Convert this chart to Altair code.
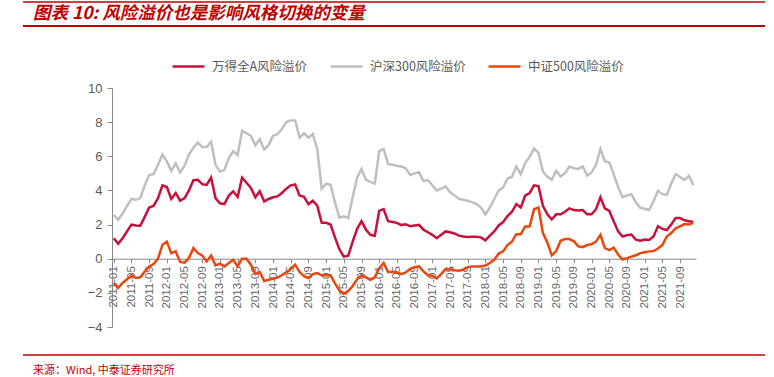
import altair as alt
import pandas as pd

# ---- data ----
months = [f"{y}-{m:02d}" for y in range(2011, 2022) for m in range(1, 13)]

wind_a = [
    1.2, 0.88, 1.2, 1.6, 2.0, 1.95, 1.93, 2.45, 3.0, 3.1, 3.55, 4.3,
    4.2, 3.5, 3.85, 3.4, 3.55, 4.0, 4.6, 4.62, 4.37, 4.32, 4.75, 3.55,
    3.25, 3.2, 3.7, 3.95, 3.62, 4.75, 4.45, 4.15, 3.6, 3.95, 3.35, 3.5,
    3.6, 3.65, 3.85, 4.1, 4.3, 4.35, 3.7, 3.63, 3.2, 3.4, 3.1, 2.1,
    2.1, 2.0, 1.25, 0.55, 0.12, 0.18, 1.0, 1.75, 2.2, 1.7, 1.4, 1.35,
    2.8, 2.9, 2.2, 2.15, 2.1, 1.97, 2.02, 1.9, 1.95, 1.98, 1.7, 1.55,
    1.4, 1.2, 1.4, 1.6, 1.55, 1.48, 1.35, 1.3, 1.27, 1.28, 1.28, 1.25,
    1.08, 1.35, 1.6, 1.95, 2.15, 2.5, 2.75, 3.2, 3.0, 3.7, 3.85, 4.3,
    4.25, 3.1, 2.6, 2.3, 2.6, 2.6, 2.75, 2.95, 2.85, 2.82, 2.85, 2.6,
    2.6, 2.9, 3.6, 2.95, 2.8, 2.2, 1.6, 1.3, 1.38, 1.42, 1.12, 1.05,
    1.12, 1.1, 1.3, 1.9, 1.75, 1.68, 2.0, 2.38, 2.38, 2.25, 2.2, 2.15,
]

hs300 = [
    2.57, 2.28, 2.65, 3.1, 3.5, 3.45, 3.55, 4.3, 4.9, 4.95, 5.5, 6.1,
    5.7, 5.15, 5.58, 5.06, 5.45, 6.1, 6.5, 6.8, 6.55, 6.54, 6.85, 5.5,
    5.1, 5.2, 5.9, 6.3, 6.07, 7.5, 7.35, 7.2, 6.63, 7.0, 6.4, 6.65,
    7.2, 7.3, 7.6, 8.0, 8.1, 8.1, 7.1, 7.35, 7.1, 7.3, 6.4, 4.1,
    4.4, 4.33, 3.3, 2.4, 2.48, 2.38, 3.6, 4.75, 5.26, 4.62, 4.5, 4.4,
    6.3, 6.43, 5.55, 5.5, 5.45, 5.4, 5.3, 4.9, 5.0, 5.07, 4.55, 4.6,
    4.3, 4.0, 4.1, 4.23, 3.9, 3.7, 3.51, 3.45, 3.4, 3.3, 3.2, 3.0,
    2.6, 3.0, 3.5, 4.0, 4.17, 4.7, 4.8, 5.4, 4.95, 5.6, 5.98, 6.45,
    6.2, 5.1, 4.8, 4.62, 5.15, 4.81, 5.01, 5.4, 5.3, 5.26, 5.4, 4.87,
    5.05, 5.5, 6.43, 5.7, 5.65, 4.95, 4.2, 3.6, 3.7, 3.78, 3.3, 2.98,
    2.93, 2.85, 3.35, 3.98, 3.78, 3.74, 4.4, 4.95, 4.79, 4.62, 4.85, 4.3,
]

zz500 = [
    -1.42, -1.71, -1.42, -1.2, -0.97, -1.13, -1.09, -0.75, -0.45, -0.31, 0.0, 0.82,
    1.0, 0.33, 0.43, -0.19, -0.23, 0.04, 0.62, 0.33, 0.19, -0.16, 0.19, -0.39,
    -0.29, -0.45, -0.25, -0.06, -0.45, 0.0, 0.0, -0.35, -0.9, -0.78, -1.3, -1.23,
    -1.17, -1.1, -0.97, -0.8, -0.6, -0.35, -0.78, -1.03, -1.13, -0.9, -0.84, -0.97,
    -0.97, -0.97, -1.45, -1.85, -2.07, -1.9, -1.6, -1.2, -0.97, -1.09, -1.23, -1.09,
    -0.55, -0.25, -0.78, -0.78, -0.8, -0.9, -0.8, -0.6, -0.5, -0.45, -0.74, -0.97,
    -1.0, -1.15, -0.9, -0.6, -0.62, -0.68, -0.7, -0.65, -0.5, -0.45, -0.45, -0.45,
    -0.4, -0.25, -0.06, 0.3, 0.43, 0.8, 1.0, 1.44, 1.44, 1.89, 1.89, 2.9,
    3.0, 1.5, 0.95, 0.2, 0.45, 1.05, 1.15, 1.15, 1.02, 0.72, 0.68, 0.8,
    0.85, 1.0, 1.4, 0.62, 0.5, 0.65, 0.25, -0.05, 0.03, 0.12, 0.2, 0.33,
    0.38, 0.43, 0.45, 0.6, 0.8, 1.3, 1.5, 1.78, 1.89, 2.03, 2.0, 2.1,
]

series_names = ["万得全A风险溢价", "沪深300风险溢价", "中证500风险溢价"]
series_colors = ["#C8103C", "#BFBFBF", "#E8470F"]
y_ticks = [-4, -2, 0, 2, 4, 6, 8, 10]
x_tick_idx = list(range(0, 132, 4))

title_text = "图表 10: 风险溢价也是影响风格切换的变量"
source_text = "来源：Wind, 中泰证券研究所"

# ---- table ----
rows = []
for name, vals in zip(series_names, [wind_a, hs300, zz500]):
    for i, v in enumerate(vals):
        rows.append({"idx": i, "month": months[i], "series": name, "value": v})
df = pd.DataFrame(rows)

W, H = 584, 239
zero_offset = -H * 4 / 14

label_expr = "[" + ",".join(f"'{m}'" for m in months) + "][datum.value]"

lines = alt.Chart(df).mark_line(strokeWidth=2.5).encode(
    x=alt.X(
        "idx:Q",
        scale=alt.Scale(domain=[-0.4, 131.6], nice=False, zero=False),
        axis=alt.Axis(
            values=x_tick_idx,
            labelExpr=label_expr,
            labelAngle=270,
            labelFontSize=11.5,
            labelFont="Liberation Sans",
            labelColor="#666666",
            labelPadding=3,
            tickSize=4,
            tickColor="#888888",
            domainColor="#888888",
            grid=False,
            title=None,
            offset=zero_offset,
            labelOverlap=False,
        ),
    ),
    y=alt.Y(
        "value:Q",
        scale=alt.Scale(domain=[-4, 10], nice=False),
        axis=alt.Axis(
            values=y_ticks,
            labelFontSize=13,
            labelFont="Liberation Sans",
            labelColor="#595959",
            labelPadding=5,
            tickSize=5,
            tickColor="#888888",
            domainColor="#888888",
            grid=False,
            title=None,
        ),
    ),
    color=alt.Color(
        "series:N",
        scale=alt.Scale(domain=series_names, range=series_colors),
        sort=series_names,
        legend=alt.Legend(
            orient="none",
            legendX=59,
            legendY=-39,
            direction="horizontal",
            title=None,
            symbolType="stroke",
            symbolSize=1024,
            symbolStrokeWidth=2.5,
            labelFont="Noto Sans CJK SC",
            labelFontSize=12.5,
            labelColor="#595959",
            labelOffset=6,
            columnPadding=17,
        ),
    ),
    detail="series:N",
)

title_df = pd.DataFrame({"t": [title_text]})
source_df = pd.DataFrame({"t": [source_text]})
rule_df = pd.DataFrame({"k": ["rule"]})

title_mark = alt.Chart(title_df).mark_text(
    align="left", baseline="alphabetic", font="Noto Sans CJK SC",
    fontSize=17.5, fontStyle="italic", fontWeight="bold", color="#C00000",
).encode(x=alt.value(-79), y=alt.value(-69), text="t:N")

source_mark = alt.Chart(source_df).mark_text(
    align="left", baseline="middle", font="Noto Sans CJK SC",
    fontSize=11, color="#C00000",
).encode(x=alt.value(-79), y=alt.value(283), text="t:N")


def hrule(ypos, sw):
    return alt.Chart(rule_df).mark_rule(color="#C00000", strokeWidth=sw).encode(
        x=alt.value(-89), x2=alt.value(653), y=alt.value(ypos), y2=alt.value(ypos)
    )


chart = alt.layer(
    hrule(-86, 1.5), hrule(-62, 2), hrule(267, 1.5),
    lines, title_mark, source_mark,
).properties(
    width=W, height=H,
    padding={"left": 112, "top": 88, "right": 78, "bottom": 50},
    autosize=alt.AutoSizeParams(type="none"),
    background="white",
).configure_view(stroke=None)

chart.save("out.html", embed_options={"renderer": "svg", "actions": False})
